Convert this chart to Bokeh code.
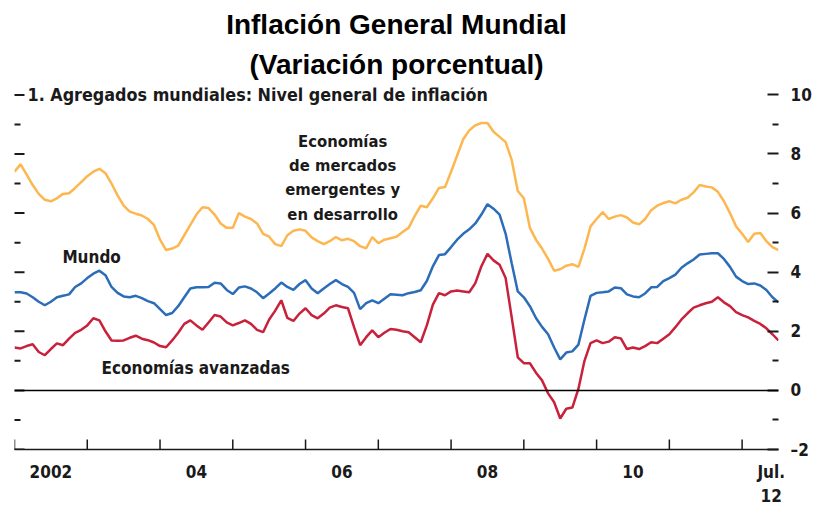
import math
from bokeh.plotting import figure
from bokeh.models import Range1d, FixedTicker, Span, Label, Title
from bokeh.embed import file_html
from bokeh.resources import INLINE

# Monthly data, Jan 2002 .. Jul 2012 (percent change)
months = list(range(127))
emergentes = [
    7.40, 7.65, 7.30, 6.95, 6.65, 6.45, 6.40, 6.50, 6.65, 6.67, 6.85, 7.05,
    7.25, 7.40, 7.50, 7.35, 7.00, 6.60, 6.25, 6.05, 5.98, 5.92, 5.80, 5.60,
    5.10, 4.75, 4.80, 4.90, 5.25, 5.60, 5.95, 6.20, 6.17, 5.95, 5.65, 5.50,
    5.50, 6.00, 5.88, 5.80, 5.65, 5.30, 5.20, 4.95, 4.88, 5.25, 5.40, 5.45,
    5.40, 5.18, 5.05, 4.95, 5.05, 5.19, 5.08, 5.13, 5.05, 4.88, 4.81, 5.19,
    4.98, 5.10, 5.15, 5.20, 5.36, 5.50, 5.90, 6.25, 6.20, 6.50, 6.85, 6.88,
    7.40, 7.95, 8.50, 8.80, 8.97, 9.05, 9.05, 8.75, 8.58, 8.40, 7.80, 6.75,
    6.50, 5.50, 5.10, 4.80, 4.45, 4.05, 4.10, 4.22, 4.27, 4.18, 4.80, 5.55,
    5.80, 6.03, 5.80, 5.88, 5.93, 5.85, 5.68, 5.62, 5.80, 6.10, 6.25, 6.34,
    6.40, 6.33, 6.45, 6.52, 6.70, 6.95, 6.90, 6.87, 6.72, 6.40, 6.00, 5.55,
    5.30, 5.02, 5.30, 5.33, 5.05, 4.85, 4.75,
]
mundo = [
    3.32, 3.32, 3.28, 3.15, 3.00, 2.88, 3.00, 3.15, 3.20, 3.25, 3.50, 3.62,
    3.80, 3.95, 4.05, 3.90, 3.50, 3.30, 3.18, 3.15, 3.20, 3.12, 3.02, 2.95,
    2.75, 2.55, 2.62, 2.85, 3.15, 3.45, 3.49, 3.49, 3.50, 3.64, 3.62, 3.40,
    3.26, 3.48, 3.52, 3.45, 3.32, 3.12, 3.28, 3.45, 3.65, 3.50, 3.40, 3.60,
    3.73, 3.45, 3.29, 3.45, 3.60, 3.73, 3.60, 3.50, 3.30, 2.75, 2.95, 3.05,
    2.95, 3.10, 3.25, 3.24, 3.22, 3.29, 3.33, 3.39, 3.70, 4.20, 4.58, 4.61,
    4.85, 5.10, 5.30, 5.45, 5.65, 5.95, 6.30, 6.15, 5.95, 5.30, 4.30, 3.35,
    3.15, 2.85, 2.45, 2.15, 1.90, 1.45, 1.05, 1.28, 1.32, 1.55, 2.40, 3.20,
    3.30, 3.32, 3.35, 3.48, 3.46, 3.25, 3.18, 3.15, 3.28, 3.49, 3.50, 3.70,
    3.80, 3.92, 4.15, 4.30, 4.43, 4.60, 4.62, 4.64, 4.64, 4.45, 4.18, 3.85,
    3.70, 3.60, 3.62, 3.55, 3.40, 3.15, 2.98,
]
avanzadas = [
    1.45, 1.42, 1.50, 1.56, 1.30, 1.19, 1.40, 1.59, 1.53, 1.75, 1.95, 2.05,
    2.20, 2.44, 2.37, 2.00, 1.69, 1.68, 1.69, 1.78, 1.85, 1.75, 1.70, 1.62,
    1.50, 1.46, 1.69, 1.95, 2.25, 2.37, 2.20, 2.05, 2.30, 2.55, 2.50, 2.30,
    2.20, 2.28, 2.37, 2.25, 2.05, 1.97, 2.40, 2.70, 3.05, 2.45, 2.35, 2.60,
    2.78, 2.55, 2.44, 2.60, 2.80, 2.88, 2.82, 2.78, 2.14, 1.53, 1.80, 2.03,
    1.80, 1.95, 2.08, 2.05, 2.00, 1.97, 1.80, 1.63, 2.20, 2.90, 3.29, 3.22,
    3.35, 3.38, 3.35, 3.32, 3.63, 4.20, 4.62, 4.40, 4.25, 3.80, 2.47, 1.12,
    0.92, 0.92, 0.60, 0.34, -0.10, -0.40, -0.95, -0.62, -0.58, 0.05, 1.00, 1.60,
    1.69, 1.60, 1.65, 1.80, 1.76, 1.40, 1.45, 1.40, 1.50, 1.63, 1.60, 1.75,
    1.90, 2.14, 2.40, 2.61, 2.80, 2.88, 2.95, 3.00, 3.15, 2.98, 2.85, 2.65,
    2.55, 2.47, 2.35, 2.25, 2.10, 1.90, 1.69,
]
assert len(emergentes) == len(mundo) == len(avanzadas) == len(months)

year_ticks = [2002, 2003, 2004, 2005, 2006, 2007, 2008, 2009, 2010, 2011, 2012]
year_label_pos = [2002.5, 2004.5, 2006.5, 2008.5, 2010.5, 2012.4]
year_labels = ["2002", "04", "06", "08", "10", "Jul.\n12"]
y_major = [-2, 0, 2, 4, 6, 8, 10]
y_minor = [-1, 1, 3, 5, 7, 9]
y_labels = {-2: "\u20132"}

x = [2002 + m / 12 for m in months]
x_start, x_end = 2002, 2012.5
y_start, y_end = -2, 10.25

FONT = "DejaVu Sans Condensed"
TITLE_FONT = "Liberation Sans"
INK = "#1a1a1a"

p = figure(width=814, height=508, output_backend="svg", toolbar_location=None,
           title=None, x_range=Range1d(x_start, x_end), y_range=Range1d(y_start, y_end),
           y_axis_location="right",
           min_border_left=14, min_border_right=36, min_border_top=87, min_border_bottom=0)
p.outline_line_color = None
p.grid.visible = False

# right axis with labels and inner ticks
ry = p.yaxis[0]
ry.ticker = FixedTicker(ticks=y_major, minor_ticks=y_minor)
ry.major_label_overrides = y_labels
ry.axis_line_color = None
ry.major_tick_in = 11
ry.major_tick_out = 0
ry.minor_tick_in = 6
ry.minor_tick_out = 0
ry.major_tick_line_width = 2
ry.minor_tick_line_width = 2
ry.major_tick_line_color = INK
ry.minor_tick_line_color = INK
ry.major_label_standoff = 12
ry.major_label_text_font = FONT
ry.major_label_text_font_style = "bold"
ry.major_label_text_font_size = "17px"
ry.major_label_text_color = INK

# bottom axis: line plus year labels centred in the years
bx = p.xaxis[0]
bx.ticker = FixedTicker(ticks=year_label_pos, minor_ticks=[])
bx.major_label_overrides = dict(zip(year_label_pos, year_labels))
bx.axis_line_width = 1.5
bx.axis_line_color = INK
bx.major_tick_line_color = None
bx.minor_tick_line_color = None
bx.major_label_standoff = 6
bx.major_label_text_font = FONT
bx.major_label_text_font_style = "bold"
bx.major_label_text_font_size = "17px"
bx.major_label_text_color = INK

# inner tick marks on the left edge and at year boundaries (half clipped by frame)
p.scatter([x_start] * len(y_major), y_major, marker="dash", size=20,
          line_color=INK, line_width=2)
p.scatter([x_start] * len(y_minor), y_minor, marker="dash", size=12,
          line_color=INK, line_width=2)
p.scatter(year_ticks, [y_start] * len(year_ticks), marker="dash", angle=math.pi / 2,
          size=20, line_color=INK, line_width=1.5)

p.add_layout(Span(location=0, dimension="width", line_color="black", line_width=1.5))

p.line(x, emergentes, line_color="#FDB751", line_width=2.5)
p.line(x, mundo, line_color="#2B6DB8", line_width=2.5)
p.line(x, avanzadas, line_color="#C8213B", line_width=2.5)

lab_style = dict(text_font=FONT, text_font_style="bold", text_color=INK)
p.add_layout(Label(x=x_start, y=10, x_offset=13,
                   text="1. Agregados mundiales: Nivel general de inflación",
                   text_baseline="middle", text_font_size="17.8px", **lab_style))
p.add_layout(Label(x=2006.51, y=8.75, text="Economías\nde mercados\nemergentes y\nen desarrollo",
                   text_align="center", text_baseline="top", text_line_height=1.28,
                   text_font_size="16.5px", **lab_style))
p.add_layout(Label(x=2003.06, y=4.5, text="Mundo", text_align="center",
                   text_baseline="middle", text_font_size="17px", **lab_style))
p.add_layout(Label(x=2004.49, y=0.75, text="Economías avanzadas", text_align="center",
                   text_baseline="middle", text_font_size="17px", **lab_style))

t2 = Title(text="(Variación porcentual)", align="center", text_font=TITLE_FONT,
           text_font_style="bold", text_font_size="28px", text_color="black",
           text_line_height=1.0, standoff=15)
p.add_layout(t2, "above")
t1 = Title(text="Inflación General Mundial", align="center", text_font=TITLE_FONT,
           text_font_style="bold", text_font_size="28px", text_color="black",
           text_line_height=1.0, standoff=0)
p.add_layout(t1, "above")

open("out.html", "w").write(file_html(p, INLINE))
